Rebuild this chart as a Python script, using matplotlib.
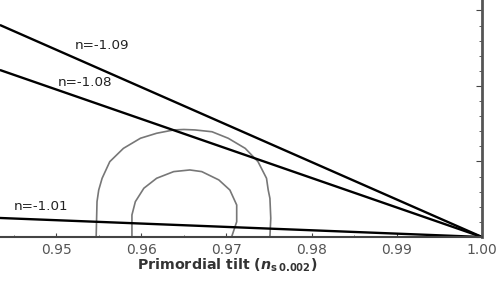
import matplotlib
matplotlib.use('Agg')
import matplotlib.pyplot as plt
from matplotlib.ticker import MultipleLocator

# model lines: (n_s, r) end points, all meet at n_s = 1
line_names = ['n=-1.09', 'n=-1.08', 'n=-1.01']
line_ns = [[0.9434, 1.0], [0.9434, 1.0], [0.9434, 1.0]]
line_r = [[0.1404, 0.0], [0.1106, 0.0], [0.0126, 0.0]]
label_ns = [0.9522, 0.9502, 0.9450]
label_r = [0.1268, 0.1024, 0.0205]

# confidence contours
outer_ns = [0.9547, 0.9548, 0.9550, 0.9554, 0.9563, 0.9579, 0.9599, 0.9618, 0.9638,
            0.9650, 0.9663, 0.9683, 0.9702, 0.9722, 0.9737, 0.9747, 0.9749, 0.9751,
            0.9752, 0.9751]
outer_r = [0.0, 0.0234, 0.0311, 0.0389, 0.0499, 0.0587, 0.0654, 0.0687, 0.0709,
           0.0712, 0.0709, 0.0697, 0.0654, 0.0587, 0.0499, 0.0389, 0.0311, 0.0256,
           0.0124, 0.0]
inner_ns = [0.9589, 0.9589, 0.9593, 0.9603, 0.9618, 0.9638, 0.9657,
            0.9671, 0.9691, 0.9704, 0.9712, 0.9712, 0.9706]
inner_r = [0.0, 0.0146, 0.0234, 0.0323, 0.0389, 0.0433, 0.0444,
           0.0433, 0.0378, 0.0311, 0.0212, 0.0101, 0.0]

xticks = [0.95, 0.96, 0.97, 0.98, 0.99, 1.00]
xtick_labels = ['0.95', '0.96', '0.97', '0.98', '0.99', '1.00']

fig = plt.figure(figsize=(5.04, 2.86), dpi=100)
ax = fig.add_axes([0, 1 - 237 / 286, 482 / 504, 237 / 286])

ax.plot(outer_ns, outer_r, '-', color='#777777', lw=1.2)
ax.plot(inner_ns, inner_r, '-', color='#777777', lw=1.2)
for xs, ys in zip(line_ns, line_r):
    ax.plot(xs, ys, '-', color='black', lw=1.7, solid_capstyle='butt')

for name, x, y in zip(line_names, label_ns, label_r):
    ax.text(x, y, name, fontsize=9.7, color='#222222', va='center')

ax.set_xlim(0.94341, 1.0)
ax.set_ylim(0, 0.15695)

ax.spines['left'].set_visible(False)
ax.spines['top'].set_visible(False)
ax.spines['bottom'].set_color('#444444')
ax.spines['bottom'].set_linewidth(1.5)
ax.spines['right'].set_color('#555555')
ax.spines['right'].set_linewidth(2.0)

ax.set_xticks(xticks)
ax.set_xticklabels(xtick_labels)
ax.xaxis.set_minor_locator(MultipleLocator(0.005))
ax.tick_params(axis='x', which='both', direction='in', colors='#444444',
               labelcolor='#555555', labelsize=10, pad=4.5)
ax.tick_params(axis='x', which='major', length=3)
ax.tick_params(axis='x', which='minor', length=1.5)

ax.yaxis.tick_right()
ax.yaxis.set_major_locator(MultipleLocator(0.05))
ax.yaxis.set_minor_locator(MultipleLocator(0.01))
ax.tick_params(axis='y', which='both', direction='in', colors='#444444',
               labelright=False)
ax.tick_params(axis='y', which='major', length=4)
ax.tick_params(axis='y', which='minor', length=2)

fig.text(227 / 504, 1 - 265.5 / 286, 'Primordial tilt ($\\mathbfit{n}_{\\mathbf{s\\,0.002}}$)',
         ha='center', va='center', fontsize=10.3, fontweight='bold', color='#333333')

fig.savefig('out.png', dpi=100)
